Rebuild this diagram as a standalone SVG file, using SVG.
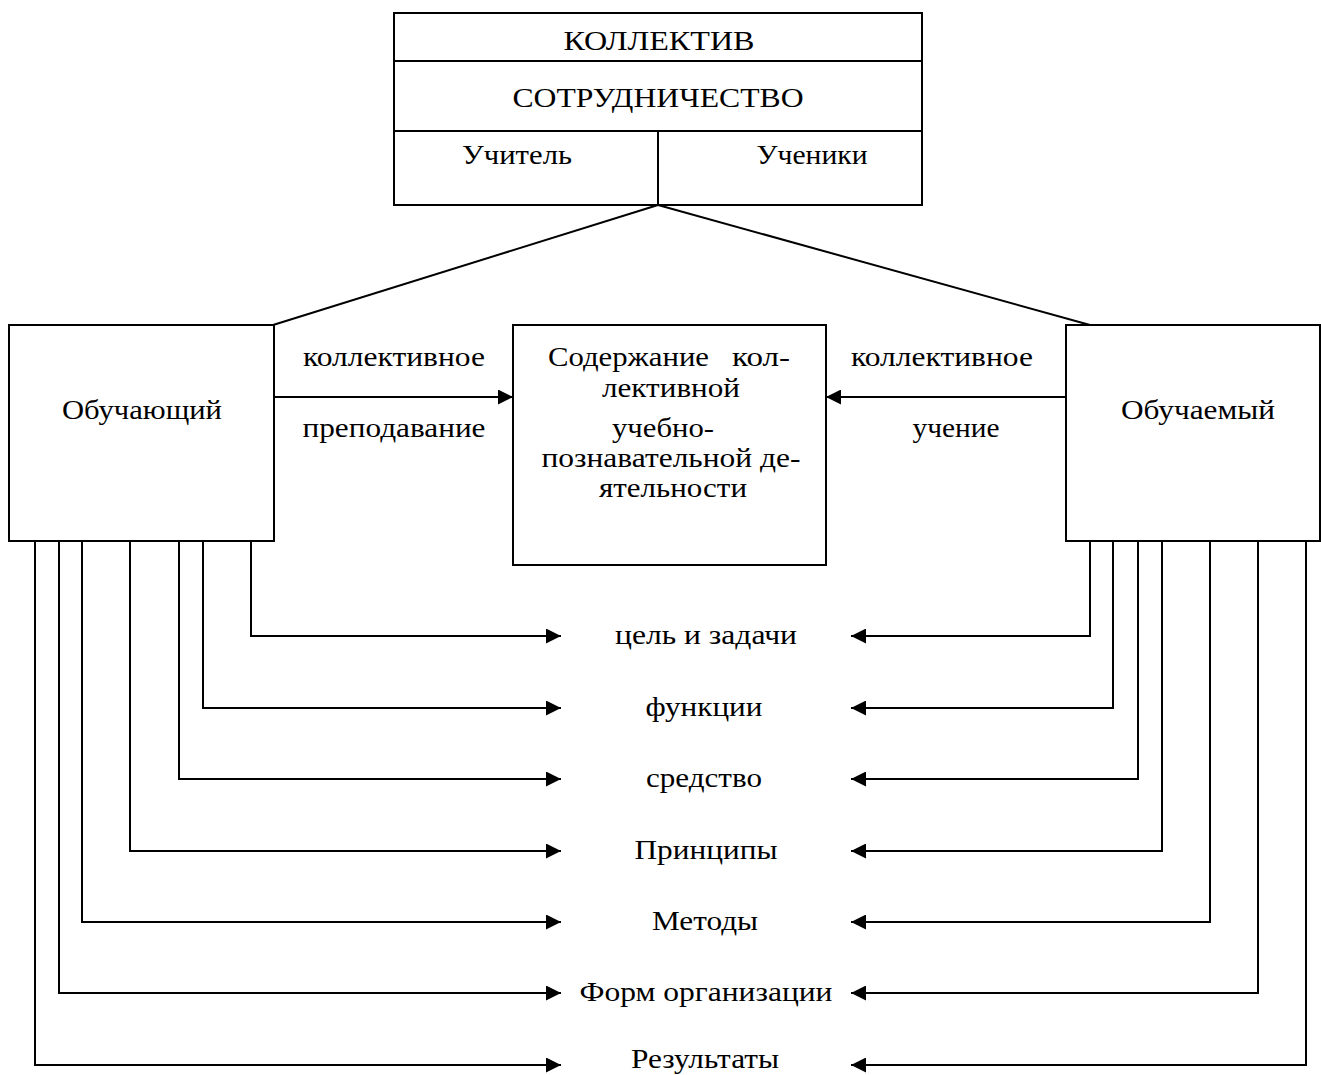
<svg xmlns="http://www.w3.org/2000/svg" width="1321" height="1075" viewBox="0 0 1321 1075">
<defs>
<style>
.box{fill:#fff;stroke:#000;stroke-width:2}
.ln{fill:none;stroke:#000;stroke-width:2}
text{font-family:"Liberation Serif","Times New Roman",serif;font-size:28px;fill:#000}
.c{text-anchor:middle}
</style>
<marker id="ah" viewBox="0 0 15 15" refX="15" refY="7.5" markerWidth="15" markerHeight="15" markerUnits="userSpaceOnUse" orient="auto">
<path d="M0,0 L15,7.5 L0,15 Z" fill="#000"/>
</marker>
</defs>
<rect width="1321" height="1075" fill="#fff"/>
<g id="connectors">
<path class="ln" d="M658,205 L273,325"/>
<path class="ln" d="M658,205 L1090,325"/>
<path class="ln" d="M274,397 L513,397" marker-end="url(#ah)"/>
<path class="ln" d="M1066,397 L826,397" marker-end="url(#ah)"/>
<path class="ln" d="M251,541 V636 H561" marker-end="url(#ah)"/>
<path class="ln" d="M203,541 V708 H561" marker-end="url(#ah)"/>
<path class="ln" d="M179,541 V779 H561" marker-end="url(#ah)"/>
<path class="ln" d="M130,541 V851 H561" marker-end="url(#ah)"/>
<path class="ln" d="M82,541 V922 H561" marker-end="url(#ah)"/>
<path class="ln" d="M59,541 V993 H561" marker-end="url(#ah)"/>
<path class="ln" d="M35,541 V1065 H561" marker-end="url(#ah)"/>
<path class="ln" d="M1090,541 V636 H851" marker-end="url(#ah)"/>
<path class="ln" d="M1113,541 V708 H851" marker-end="url(#ah)"/>
<path class="ln" d="M1138,541 V779 H851" marker-end="url(#ah)"/>
<path class="ln" d="M1162,541 V851 H851" marker-end="url(#ah)"/>
<path class="ln" d="M1210,541 V922 H851" marker-end="url(#ah)"/>
<path class="ln" d="M1258,541 V993 H851" marker-end="url(#ah)"/>
<path class="ln" d="M1306,541 V1065 H851" marker-end="url(#ah)"/>
<text class="c" x="394" y="366" textLength="182" lengthAdjust="spacingAndGlyphs">коллективное</text>
<text class="c" x="394" y="437" textLength="183" lengthAdjust="spacingAndGlyphs">преподавание</text>
<text class="c" x="942" y="366" textLength="182" lengthAdjust="spacingAndGlyphs">коллективное</text>
<text class="c" x="956" y="437" textLength="87" lengthAdjust="spacingAndGlyphs">учение</text>
</g>
<g id="kollektiv">
<rect class="box" x="394" y="13" width="528" height="192"/>
<path class="ln" d="M394,61 H922 M394,131 H922 M658,131 V205"/>
<text class="c" x="659" y="50" textLength="191" lengthAdjust="spacingAndGlyphs">КОЛЛЕКТИВ</text>
<text class="c" x="658" y="107" textLength="291" lengthAdjust="spacingAndGlyphs">СОТРУДНИЧЕСТВО</text>
<text class="c" x="517" y="164" textLength="110" lengthAdjust="spacingAndGlyphs">Учитель</text>
<text class="c" x="812" y="164" textLength="111" lengthAdjust="spacingAndGlyphs">Ученики</text>
</g>
<g id="obuchayushchiy">
<rect class="box" x="9" y="325" width="265" height="216"/>
<text class="c" x="142" y="419" textLength="160" lengthAdjust="spacingAndGlyphs">Обучающий</text>
</g>
<g id="soderzhanie">
<rect class="box" x="513" y="325" width="313" height="240"/>
<text x="548" y="366" textLength="161" lengthAdjust="spacingAndGlyphs">Содержание</text>
<text x="790" y="366" text-anchor="end" textLength="58" lengthAdjust="spacingAndGlyphs">кол-</text>
<text class="c" x="671" y="397" textLength="138" lengthAdjust="spacingAndGlyphs">лективной</text>
<text class="c" x="663" y="437" textLength="102" lengthAdjust="spacingAndGlyphs">учебно-</text>
<text class="c" x="671" y="467" textLength="259" lengthAdjust="spacingAndGlyphs">познавательной де-</text>
<text class="c" x="673" y="497" textLength="148" lengthAdjust="spacingAndGlyphs">ятельности</text>
</g>
<g id="obuchaemyy">
<rect class="box" x="1066" y="325" width="254" height="216"/>
<text class="c" x="1198" y="419" textLength="154" lengthAdjust="spacingAndGlyphs">Обучаемый</text>
</g>
<g id="labels">
<text class="c" x="706" y="644" textLength="182" lengthAdjust="spacingAndGlyphs">цель и задачи</text>
<text class="c" x="704" y="716" textLength="117" lengthAdjust="spacingAndGlyphs">функции</text>
<text class="c" x="704" y="787" textLength="116" lengthAdjust="spacingAndGlyphs">средство</text>
<text class="c" x="706" y="859" textLength="143" lengthAdjust="spacingAndGlyphs">Принципы</text>
<text class="c" x="705" y="930" textLength="106" lengthAdjust="spacingAndGlyphs">Методы</text>
<text class="c" x="706" y="1001" textLength="253" lengthAdjust="spacingAndGlyphs">Форм организации</text>
<text class="c" x="705" y="1068" textLength="148" lengthAdjust="spacingAndGlyphs">Результаты</text>
</g>
</svg>
